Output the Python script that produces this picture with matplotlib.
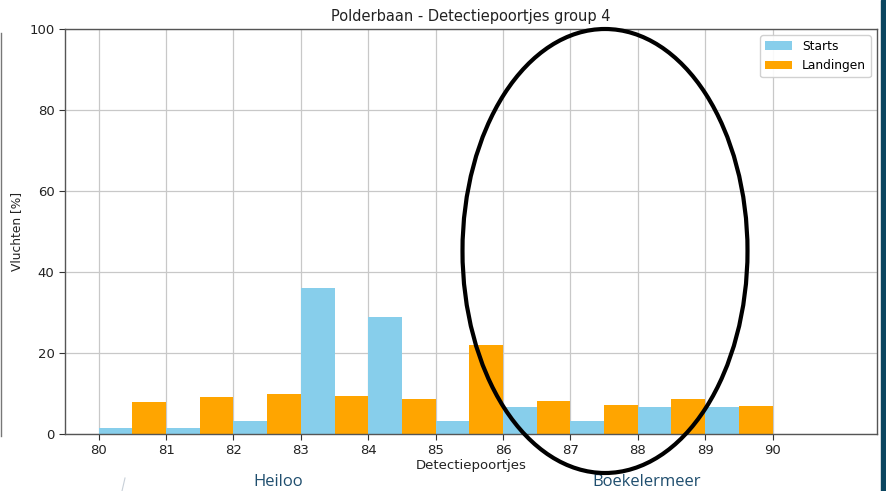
import matplotlib
matplotlib.use("Agg")
import matplotlib.pyplot as plt
from matplotlib.patches import Ellipse, Rectangle
from matplotlib.lines import Line2D

# Detection gates and share of flights per gate
gates = [80, 81, 82, 83, 84, 85, 86, 87, 88, 89]
starts = [1.5, 1.5, 3.3, 36.1, 29.0, 3.3, 6.7, 3.3, 6.7, 6.7]
landingen = [7.8, 9.2, 9.9, 9.5, 8.7, 21.9, 8.2, 7.2, 8.7, 7.0]
xticks = [80, 81, 82, 83, 84, 85, 86, 87, 88, 89, 90]
yticks = [0, 20, 40, 60, 80, 100]

fig = plt.figure(figsize=(8.87, 4.91), dpi=100)
ax = fig.add_axes([0.0733, 0.1161, 0.9154, 0.8249])

width = 0.5
ax.bar(gates, starts, width=width, align="edge", color="#87ceeb", label="Starts", zorder=2)
ax.bar([g + width for g in gates], landingen, width=width, align="edge",
       color="#ffa500", label="Landingen", zorder=2)

ax.set_xlim(79.5, 91.55)
ax.set_ylim(0, 100)
ax.set_xticks(xticks)
ax.set_yticks(yticks)
ax.tick_params(labelsize=9.5, length=4, colors="#333333", labelcolor="#222222")
ax.grid(True, color="#c8c8c8", linewidth=0.9, zorder=0)
ax.set_axisbelow(True)
ax.set_xlabel("Detectiepoortjes", fontsize=9.5, labelpad=1, color="#222222")
ax.set_ylabel("Vluchten [%]", fontsize=8.8, labelpad=9, color="#222222")
ax.yaxis.set_label_coords(-0.052, 0.5)
ax.set_title("Polderbaan - Detectiepoortjes group 4", fontsize=10.5, pad=6, color="#222222")
for s in ax.spines.values():
    s.set_color("#555555")
    s.set_linewidth(1.0)
ax.legend(loc="upper right", fontsize=8.8, framealpha=0.9, handlelength=2.2)

# Highlighted region around the eastern gates
ell = Ellipse((605 / 887, 1 - 251 / 491), 285 / 887, 444 / 491,
              transform=fig.transFigure, fill=False, edgecolor="black",
              linewidth=3, zorder=10)
fig.add_artist(ell)

# Place names beneath the axis
place_color = "#1f4e6e"
fig.text(278 / 887, 1 - 482 / 491, "Heiloo", ha="center", va="center",
         fontsize=12, color=place_color, family="Open Sans")
fig.text(647 / 887, 1 - 482 / 491, "Boekelermeer", ha="center", va="center",
         fontsize=12, color=place_color, family="Open Sans")

# Slide frame elements
fig.add_artist(Rectangle((881.5 / 887, 0), 6 / 887, 1, transform=fig.transFigure,
                         color="#0b4660", zorder=0))
fig.add_artist(Line2D([0.7 / 887, 0.7 / 887], [1 - 436 / 491, 1 - 33 / 491],
                      transform=fig.transFigure, color="#777777", linewidth=1))
fig.add_artist(Line2D([122 / 887, 125 / 887], [0, 1 - 478 / 491],
                      transform=fig.transFigure, color="#c8d0d8", linewidth=0.8))

fig.savefig("out.png", dpi=100)
